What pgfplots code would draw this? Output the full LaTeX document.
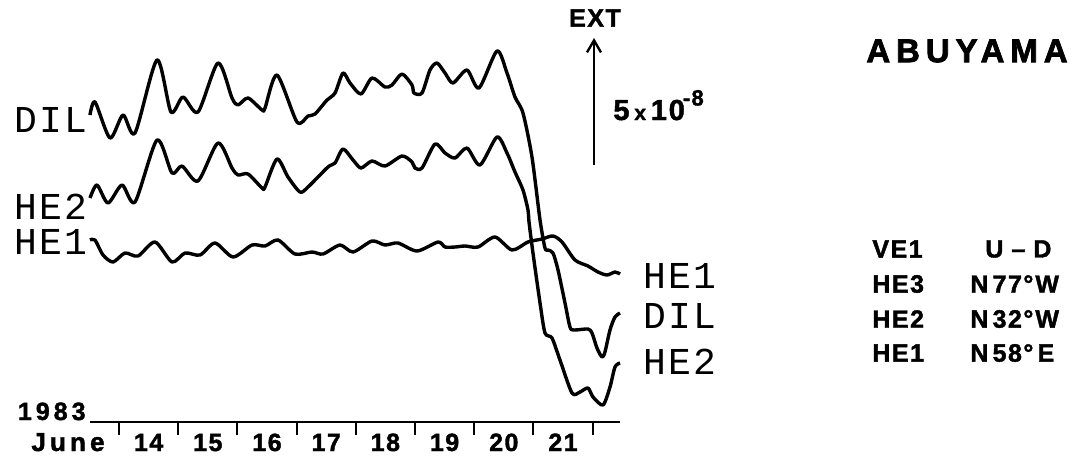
\documentclass[border=0pt]{standalone}
\usepackage{fontspec}
\setmainfont{Liberation Sans}
\newfontfamily\mono{Liberation Mono}[LetterSpace=6]
\newfontfamily\heavy{Liberation Sans}[FakeBold=1.6,LetterSpace=6]
\newfontfamily\wheavy{Liberation Sans}[FakeBold=1.6,LetterSpace=16]
\newfontfamily\xheavy{Liberation Sans}[FakeBold=2.2,LetterSpace=18]
\usepackage{pgfplots}
\pgfplotsset{compat=1.18}
\usetikzlibrary{arrows.meta}
\begin{document}
\begin{tikzpicture}
\useasboundingbox (-45pt,-20.5pt) rectangle (498.5pt,211pt);
\begin{axis}[
 scale only axis, width=265pt, height=211pt,
 xmin=13.510, xmax=22.463, ymin=0, ymax=422,
 axis x line=bottom, axis y line=none, ytick=\empty,
 x axis line style={-, line width=1.2pt},
 xtick={14.5,15.5,16.5,17.5,18.5,19.5,20.5,21.5},
 xticklabels={14,15,16,17,18,19,20,21},
 major tick length=0pt,
 minor xtick={14,15,16,17,18,19,20,21,22}, minor tick length=6.5pt,
 xtick align=outside,
 minor tick style={line width=1pt,black},
 xticklabel style={font=\heavy\bfseries\fontsize{12.5}{13}\selectfont, anchor=base, yshift=-14.5pt},
 clip=false,
]
% DIL
\addplot[black, line width=1.7pt, smooth, tension=0.45, line join=round] coordinates {
(13.510,307)(13.595,320)(13.848,284)(14.068,307)(14.270,289)(14.642,362)(14.878,310)
(15.081,325)(15.334,310)(15.672,359)(15.909,324)(16.010,317)(16.179,324)(16.416,312)
(16.466,314)(16.669,347)(17.007,300)(17.193,306)(17.311,308)(17.514,322)(17.649,329)
(17.784,349)(17.902,339)(18.088,328)(18.274,344)(18.493,335)(18.611,337)(18.780,348)
(18.949,337)(18.983,329)(19.118,329)(19.253,352)(19.372,359)(19.507,349)(19.642,339)
(19.878,352)(20.081,334)(20.385,371)(20.554,349)(20.689,325)(20.824,309)(20.976,265)
(21.112,202)(21.196,174)(21.247,172)(21.331,169)(21.416,152)(21.534,119)(21.618,95)
(21.686,92)(21.922,93)(21.990,89)(22.074,74)(22.159,65)(22.209,70)(22.294,92)
(22.378,105)(22.463,109)};
% HE2
\addplot[black, line width=1.7pt, smooth, tension=0.45, line join=round] coordinates {
(13.510,224)(13.628,237)(13.814,219)(14.051,237)(14.270,220)(14.642,282)(14.895,249)
(15.064,256)(15.334,241)(15.672,279)(15.909,254)(16.010,247)(16.179,248)(16.416,234)
(16.466,235)(16.669,263)(16.855,245)(17.057,230)(17.193,235)(17.530,255)(17.649,259)
(17.784,273)(17.953,262)(18.088,254)(18.274,261)(18.493,256)(18.780,266)(18.949,260)
(19.000,254)(19.118,254)(19.338,278)(19.507,269)(19.676,264)(19.878,274)(20.098,257)
(20.385,285)(20.554,269)(20.689,250)(20.824,232)(20.909,212)(20.926,200)(20.993,169)
(21.112,119)(21.196,89)(21.314,84)(21.449,62)(21.652,29)(21.787,30)(21.922,34)
(22.007,25)(22.176,17)(22.294,35)(22.378,55)(22.463,59)};
% HE1
\addplot[black, line width=1.7pt, smooth, tension=0.45, line join=round] coordinates {
(13.510,182)(13.595,182)(13.730,167)(13.899,160)(14.101,169)(14.321,166)(14.608,180)
(14.895,160)(15.115,169)(15.368,167)(15.622,179)(15.926,165)(16.247,177)(16.466,176)
(16.686,182)(16.973,168)(17.260,170)(17.446,168)(17.733,177)(17.953,170)(18.274,181)
(18.493,177)(18.713,179)(19.034,171)(19.389,180)(19.507,175)(19.676,175)(19.845,176)
(20.064,175)(20.351,185)(20.639,172)(20.909,180)(21.145,183)(21.331,186)(21.483,180)
(21.703,162)(21.922,156)(22.091,150)(22.243,147)(22.378,150)(22.463,148)};
\end{axis}
\begin{scope}[x=0.5pt,y=-0.5pt,shift={(-45pt,211pt)}]
\tikzset{lab/.style={anchor=west,inner sep=0pt,font=\mono\fontsize{19}{19}\selectfont}}
\node[lab] at (14,120) {DIL};
\node[lab] at (14,207) {HE2};
\node[lab] at (14,242) {HE1};
\node[lab] at (643,276) {HE1};
\node[lab] at (643,316) {DIL};
\node[lab] at (643,362) {HE2};
\node[anchor=base east,inner sep=0pt,font=\wheavy\bfseries\fontsize{12.5}{13}\selectfont] at (86,420) {1983};
\node[anchor=base,inner sep=0pt,font=\wheavy\bfseries\fontsize{13}{13}\selectfont] at (68,451) {June};
\node[inner sep=0pt,font=\heavy\bfseries\fontsize{12.5}{13}\selectfont] at (595,18) {EXT};
\draw[line width=1.2pt,-{Straight Barb[length=6pt,width=7pt,line width=1.2pt]}] (594,165) -- (594,38);
\node[anchor=base west,inner sep=0pt,font=\heavy\bfseries\fontsize{14.5}{15}\selectfont] at (613,120)
 {5\,{\fontsize{10.5}{11}\selectfont x}\,10\kern-1pt\raisebox{0.95ex}{\fontsize{11}{11}\selectfont -8}};
\node[inner sep=0pt,font=\xheavy\bfseries\fontsize{16.5}{17}\selectfont] at (967,51) {ABUYAMA};
\tikzset{tab/.style={anchor=west,inner sep=0pt,font=\heavy\bfseries\fontsize{12.5}{13}\selectfont}}
\node[tab] at (872,249) {VE1};
\node[tab] at (872,284) {HE3};
\node[tab] at (872,319) {HE2};
\node[tab] at (872,353) {HE1};
\node[tab] at (985,249) {U\kern4pt–\kern4pt D};
\node[tab] at (970,284) {N\,77°\kern1pt W};
\node[tab] at (970,319) {N\,32°\kern1pt W};
\node[tab] at (970,353) {N\,58°\,E};
\end{scope}
\end{tikzpicture}
\end{document}
